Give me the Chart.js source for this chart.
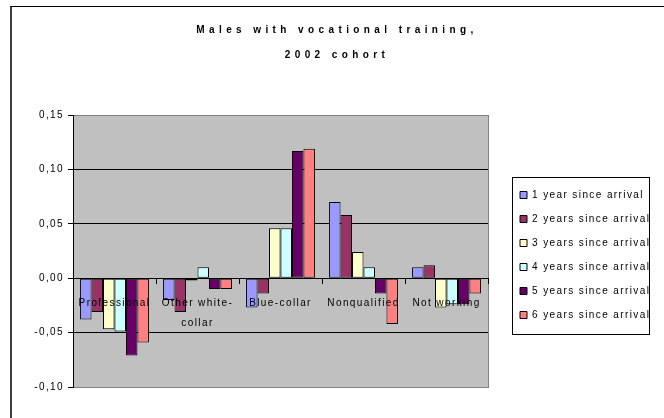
<!DOCTYPE html>
<html>
<head>
<meta charset="utf-8">
<script src="https://cdn.jsdelivr.net/npm/chart.js@4/dist/chart.umd.min.js"></script>
<style>
  body { margin: 0; background: #fff; }
</style>
</head>
<body>
<canvas id="chart" width="664" height="418"></canvas>
<script>
// categories and series
const categories = ['Professional', ['Other white-', 'collar'], 'Blue-collar', 'Nonqualified', 'Not working'];
const seriesNames = ['1 year since arrival', '2 years since arrival', '3 years since arrival',
                     '4 years since arrival', '5 years since arrival', '6 years since arrival'];
const oneYear    = [-0.038, -0.020, -0.027,  0.070,  0.010];
const twoYears   = [-0.031, -0.031, -0.014,  0.058,  0.012];
const threeYears = [-0.047, -0.002,  0.046,  0.024, -0.027];
const fourYears  = [-0.049,  0.010,  0.046,  0.010, -0.024];
const fiveYears  = [-0.071, -0.010,  0.117, -0.014, -0.024];
const sixYears   = [-0.059, -0.010,  0.119, -0.042, -0.014];
const yTicks = [-0.10, -0.05, 0, 0.05, 0.10, 0.15];
const titleLines = ['Males with vocational training,', '2002 cohort'];

const colors = ['#9999FF', '#993366', '#FFFFCC', '#CCFFFF', '#660066', '#FF8080'];
const series = [oneYear, twoYears, threeYears, fourYears, fiveYears, sixYears];

// Excel draws its text with loose letter spacing
const SPACING = '1.4px';
const LEGEND_WIDTH = 158;

const excelLook = {
  id: 'excelLook',
  beforeLayout(chart) {
    chart.ctx.letterSpacing = SPACING;
    // legend keeps a fixed width so the plot ends where the picture's does
    const lg = chart.legend;
    if (lg && !lg.fixed) {
      const fit = lg.fit;
      lg.fit = function () { fit.call(this); this.width = LEGEND_WIDTH; };
      lg.fixed = true;
    }
  },
  afterLayout(chart) {
    chart.legend.top += 4;
    chart.legend.bottom += 4;
  },
  beforeDraw(chart) {
    const ctx = chart.ctx;
    const a = chart.chartArea;
    ctx.letterSpacing = SPACING;
    // wider spacing for the title only
    const t = chart.titleBlock;
    if (t && !t.spaced) {
      const draw = t.draw;
      t.draw = function (area) {
        chart.ctx.letterSpacing = '4.4px';
        draw.call(this, area);
        chart.ctx.letterSpacing = SPACING;
      };
      t.spaced = true;
    }
    ctx.save();
    ctx.fillStyle = '#c0c0c0';
    ctx.fillRect(a.left, a.top, a.right - a.left, a.bottom - a.top);
    ctx.strokeStyle = '#808080';
    ctx.lineWidth = 1;
    ctx.strokeRect(a.left + 0.5, a.top + 0.5, a.right - a.left, a.bottom - a.top);
    ctx.restore();
  },
  afterDraw(chart) {
    const ctx = chart.ctx;
    ctx.save();
    // box round the legend
    const hb = chart.legend.legendHitBoxes;
    if (hb && hb.length) {
      const first = hb[0], last = hb[hb.length - 1];
      const left = Math.round(first.left - 8);
      const top = Math.round(first.top + first.height / 2 - 18);
      const right = Math.round(first.left + 129);
      const bottom = Math.round(last.top + last.height / 2 + 19);
      ctx.strokeStyle = '#000';
      ctx.lineWidth = 1;
      ctx.strokeRect(left + 0.5, top + 0.5, right - left, bottom - top);
    }
    // outer chart frame (only top and left are in the picture)
    ctx.fillStyle = '#404040';
    ctx.fillRect(10, 6, 2, chart.height - 6);
    ctx.fillStyle = '#000';
    ctx.fillRect(10, 6, chart.width - 10, 1);
    ctx.restore();
  }
};

new Chart(document.getElementById('chart'), {
  type: 'bar',
  data: {
    labels: categories,
    datasets: series.map((values, i) => ({
      label: seriesNames[i],
      data: values,
      backgroundColor: colors[i],
      borderColor: '#000',
      borderWidth: 1,
      borderSkipped: false,
      categoryPercentage: 0.83,
      barPercentage: 1.0
    }))
  },
  options: {
    responsive: false,
    animation: false,
    devicePixelRatio: 1,
    font: { family: "'Liberation Sans', Arial, sans-serif" },
    layout: { padding: { left: 10, top: 6, right: 0, bottom: 31 } },
    plugins: {
      tooltip: { enabled: false },
      title: {
        display: true,
        text: titleLines,
        color: '#000',
        font: { family: "'Liberation Sans', Arial, sans-serif", size: 10, weight: 'bold', lineHeight: 2.45 },
        padding: { top: 12, bottom: 48 }
      },
      legend: {
        position: 'right',
        fullSize: false,
        align: 'center',
        labels: {
          boxWidth: 7,
          boxHeight: 7,
          padding: 14,
          color: '#000',
          font: { family: "'Liberation Sans', Arial, sans-serif", size: 10 }
        }
      }
    },
    scales: {
      x: {
        position: { y: 0 },
        offset: true,
        grid: { display: true, drawOnChartArea: false, drawTicks: true, tickLength: 5, color: '#000', offset: true, z: 1 },
        border: { display: true, color: '#000', z: 1 },
        ticks: {
          z: 1,
          padding: 10,
          color: '#000',
          maxRotation: 0,
          autoSkip: false,
          font: { family: "'Liberation Sans', Arial, sans-serif", size: 10, lineHeight: 2 }
        }
      },
      y: {
        min: -0.1,
        max: 0.15,
        afterFit: s => { s.width = 63; },
        afterBuildTicks: s => { s.ticks = yTicks.map(v => ({ value: v })); },
        grid: {
          color: c => (c.tick && (c.tick.value === 0.15 || c.tick.value === -0.1)) ? '#808080' : '#000',
          tickColor: '#000',
          tickLength: 5
        },
        border: { color: '#000' },
        ticks: {
          padding: 4,
          color: '#000',
          font: { family: "'Liberation Sans', Arial, sans-serif", size: 10 },
          callback: v => (Math.round(v * 100) / 100).toFixed(2).replace('.', ',')
        }
      },
      // empty spacer between the plot and the legend
      gap: {
        type: 'linear',
        position: 'right',
        grid: { display: false },
        border: { display: false },
        ticks: { display: false },
        afterFit: s => { s.width = 18; }
      }
    }
  },
  plugins: [excelLook]
});
</script>
</body>
</html>
